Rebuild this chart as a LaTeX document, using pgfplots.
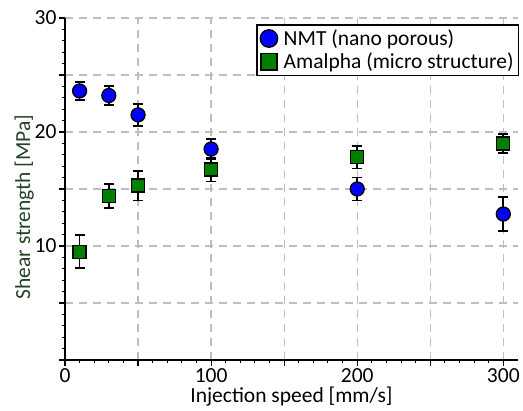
\documentclass[border=0pt]{standalone}
\usepackage{fontspec}
\setmainfont{Carlito}
\usepackage{pgfplots}
\pgfplotsset{compat=1.18}
\definecolor{nmt}{RGB}{0,0,255}
\definecolor{ama}{RGB}{0,128,0}
\definecolor{gridgray}{RGB}{190,190,190}
\definecolor{ylab}{RGB}{35,65,35}

\begin{document}
\begin{tikzpicture}
\path (-65pt,-49pt) rectangle (458pt,360pt);
\begin{axis}[
    at={(0,0)}, anchor=south west,
    scale only axis,
    width=453pt, height=342pt,
    xmin=0, xmax=310,
    ymin=0, ymax=30,
    axis x line=bottom, axis y line=left,
    axis line style={-, line width=1.6pt, black},
    xtick={0,50,...,300},
    xticklabels={0,,100,,200,,300},
    ytick={0,5,...,30},
    yticklabels={,,10,,20,,30},
    minor x tick num=4,
    minor y tick num=4,
    tick align=outside,
    major tick length=6pt,
    minor tick length=3pt,
    tick style={line width=1.2pt, black},
    every minor tick/.style={line width=1pt, black},
    grid=major,
    major grid style={gridgray, line width=1.3pt, dash pattern=on 8pt off 6pt},
    font=\fontsize{21.5}{23}\selectfont,
    /pgf/number format/assume math mode=true,
    xticklabel style={yshift=1pt},
    yticklabel style={xshift=1pt},
    xlabel={Injection speed [mm/s]},
    ylabel={Shear strength [MPa]},
    ylabel style={text=ylab, at={(ticklabel cs:0.447)}, yshift=-6pt},
    xlabel style={yshift=2pt},
    clip=false,
    legend style={at={(1.003,0.982)}, anchor=north east, draw=black, line width=1.5pt,
        font=\fontsize{21.5}{23}\selectfont, inner sep=3pt, row sep=2pt,
        /tikz/every odd column/.append style={column sep=4pt}},
    legend cell align=left,
    legend image post style={scale=1.25},
    error bars/y dir=both,
    error bars/y explicit,
    error bars/error mark options={rotate=90, mark size=5pt, line width=1.7pt, black},
    error bars/error bar style={line width=1.7pt, black},
]
\addplot[only marks, mark=*, mark size=7pt, mark options={fill=nmt, draw=black, line width=1.3pt}]
coordinates {
    (10,23.6) +- (0,0.8)
    (30,23.2) +- (0,0.85)
    (50,21.5) +- (0,0.95)
    (100,18.5) +- (0,0.9)
    (200,15.0) +- (0,1.0)
    (300,12.8) +- (0,1.5)
};
\addlegendentry{NMT (nano porous)}
\addplot[only marks, mark=square*, mark size=6.5pt, mark options={fill=ama, draw=black, line width=1.3pt}]
coordinates {
    (10,9.5) +- (0,1.45)
    (30,14.4) +- (0,1.05)
    (50,15.3) +- (0,1.3)
    (100,16.7) +- (0,1.05)
    (200,17.8) +- (0,1.0)
    (300,19.0) +- (0,0.85)
};
\addlegendentry{Amalpha (micro structure)}
\end{axis}
\end{tikzpicture}
\end{document}
